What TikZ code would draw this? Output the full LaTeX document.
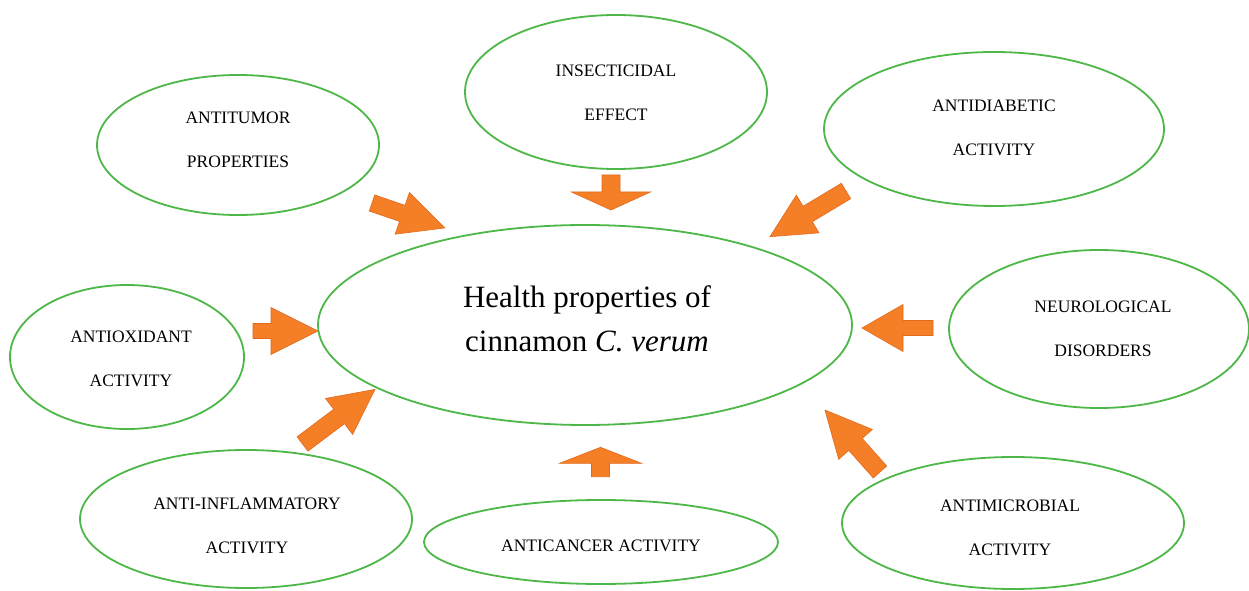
\documentclass[tikz,border=0pt]{standalone}
\usepackage{fontspec}
\setmainfont{Liberation Serif}
\usetikzlibrary{shapes.geometric}
\definecolor{egreen}{RGB}{77,184,72}
\definecolor{aorange}{RGB}{244,127,38}
\definecolor{aedge}{RGB}{226,106,30}
\tikzset{
  bubble/.style={ellipse, draw=egreen, line width=1.8pt, inner sep=0pt},
  lbl/.style={inner sep=0pt, align=center, font=\fontsize{17.5}{44}\selectfont},
  biglbl/.style={lbl, font=\fontsize{31}{44}\selectfont},
  barrow/.style={fill=aorange, draw=aedge, line width=0.6pt, line join=miter}
}
% #1 tail coordinate, #2 angle, #3 length, #4 shaft width, #5 head width, #6 head length
\newcommand{\blockarrow}[6]{%
  \begin{scope}[shift={(#1)},rotate=#2]
    \filldraw[barrow] (0,{-#4/2}) -- ({#3-#6},{-#4/2}) -- ({#3-#6},{-#5/2}) -- (#3,0)
      -- ({#3-#6},{#5/2}) -- ({#3-#6},{#4/2}) -- (0,{#4/2}) -- cycle;
  \end{scope}}
\begin{document}
\begin{tikzpicture}[x=1pt,y=1pt]
\useasboundingbox (0,0) rectangle (1249,590);
\fill[white] (0,0) rectangle (1249,590);

\node[bubble, minimum width=534pt, minimum height=200pt] (center) at (585,265) {};
\node[bubble, minimum width=282pt, minimum height=140pt] (antitumor) at (238,445) {};
\node[bubble, minimum width=302pt, minimum height=154pt] (insect) at (616,498) {};
\node[bubble, minimum width=340pt, minimum height=154pt] (diabetic) at (994,461) {};
\node[bubble, minimum width=234pt, minimum height=144pt] (oxidant) at (127,233) {};
\node[bubble, minimum width=300pt, minimum height=158pt] (neuro) at (1099,261) {};
\node[bubble, minimum width=332pt, minimum height=138pt] (inflam) at (246,71) {};
\node[bubble, minimum width=354pt, minimum height=84pt] (cancer) at (601,48) {};
\node[bubble, minimum width=342pt, minimum height=132pt] (microb) at (1013,67) {};

\node[biglbl] (tcenter) at ([xshift=2pt,yshift=6pt]center.center) {Health properties of\\cinnamon \textit{C. verum}};
\node[lbl] (tantitumor) at ([yshift=5pt]antitumor.center) {ANTITUMOR\\PROPERTIES};
\node[lbl] (tinsect) at ([yshift=-1pt]insect.center) {INSECTICIDAL\\EFFECT};
\node[lbl] (tdiabetic) at ([yshift=1pt]diabetic.center) {ANTIDIABETIC\\ACTIVITY};
\node[lbl] (toxidant) at ([xshift=4pt,yshift=-2pt]oxidant.center) {ANTIOXIDANT\\ACTIVITY};
\node[lbl] (tneuro) at ([xshift=4pt]neuro.center) {NEUROLOGICAL\\DISORDERS};
\node[lbl] (tinflam) at ([xshift=1pt,yshift=-7pt]inflam.center) {ANTI-INFLAMMATORY\\ACTIVITY};
\node[lbl] (tcancer) at ([yshift=-4pt]cancer.center) {ANTICANCER ACTIVITY};
\node[lbl] (tmicrob) at ([xshift=-3pt,yshift=-4.5pt]microb.center) {ANTIMICROBIAL\\ACTIVITY};

\coordinate (a1) at (372,387);
\coordinate (a2) at (611,415);
\coordinate (a3) at (846,399);
\coordinate (a4) at (253,259);
\coordinate (a5) at (933,262);
\coordinate (a6) at (302.5,146);
\coordinate (a7) at (600.5,113.3);
\coordinate (a8) at (880,118);

\blockarrow{a1}{-18.9}{77}{17}{44}{45}
\blockarrow{a2}{-90}{35}{18}{79}{18}
\blockarrow{a3}{-149}{88.7}{18}{44}{44}
\blockarrow{a4}{0}{65}{15}{47}{47}
\blockarrow{a5}{180}{71}{15}{47}{41}
\blockarrow{a6}{37}{90.8}{18}{45}{45}
\blockarrow{a7}{90}{29.4}{18}{82}{16}
\blockarrow{a8}{131.6}{82.9}{18}{45}{46}
\end{tikzpicture}
\end{document}
